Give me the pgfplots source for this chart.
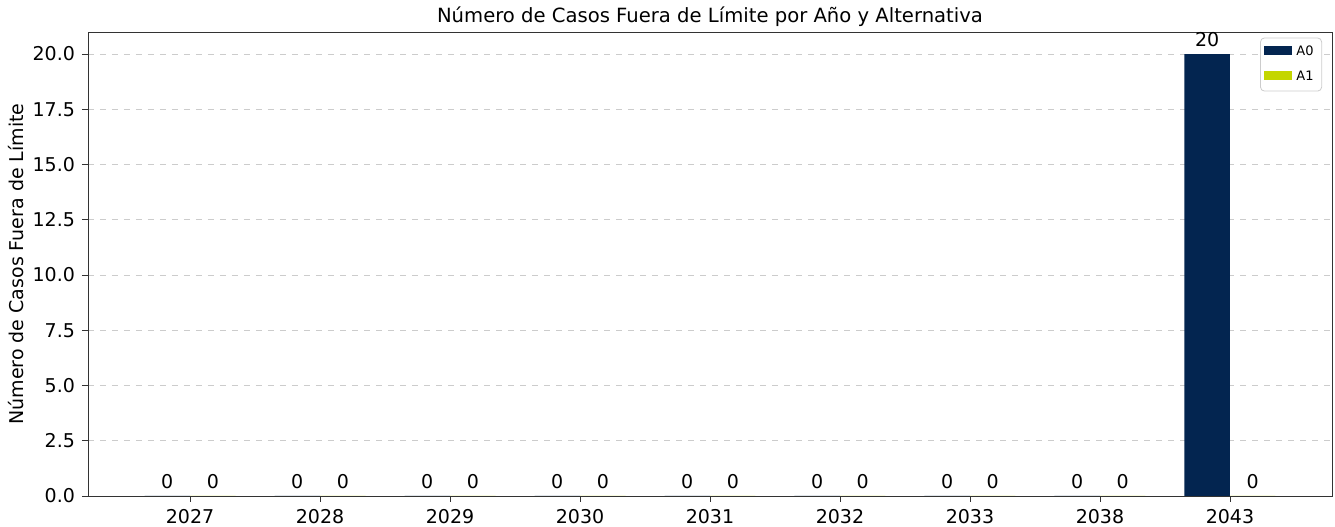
\documentclass[border=0pt]{standalone}
\usepackage{fontspec}
\setmainfont{DejaVu Sans}
\usepackage{pgfplots}
\pgfplotsset{compat=1.18}
\definecolor{navy}{RGB}{3,37,80}
\definecolor{lime}{RGB}{196,214,0}
\begin{document}
\begin{tikzpicture}
\begin{axis}[
  scale only axis, width=622pt, height=232pt,
  xmin=-0.785, xmax=8.785, ymin=0, ymax=21,
  xtick={0,1,2,3,4,5,6,7,8},
  xticklabels={2027,2028,2029,2030,2031,2032,2033,2038,2043},
  ytick={0,2.5,5,7.5,10,12.5,15,17.5,20},
  yticklabel style={/pgf/number format/.cd, fixed, fixed zerofill, precision=1},
  /pgf/number format/assume math mode=true,
  tick label style={font=\fontsize{9.5}{11}\selectfont},
  ymajorgrids, grid style={dashed, black!20},
  axis line style={black!80},
  tick align=outside, tick pos=left,
  major tick length=3pt,
  every tick/.style={black!80},
  title={Número de Casos Fuera de Límite por Año y Alternativa},
  title style={font=\fontsize{9.8}{11}\selectfont, yshift=-7pt},
  ylabel={Número de Casos Fuera de Límite},
  ylabel style={font=\fontsize{9.5}{11}\selectfont},
  ylabel shift=-2.5pt,
  legend style={at={(0.992,0.988)}, anchor=north east, font=\fontsize{6.5}{8}\selectfont,
    draw=black!20, rounded corners=2pt, row sep=2pt, inner sep=2pt},
  legend image code/.code={\fill[#1, sharp corners] (0pt,-1.5pt) rectangle (14pt,3pt);},
  nodes near coords style={font=\fontsize{9.5}{11}\selectfont, black},
]
\addplot[ybar, bar width=0.35, bar shift=-0.175, fill=navy, draw=none, nodes near coords,
  every node near coord/.append style={xshift=-11.4pt}]
  coordinates {(0,0) (1,0) (2,0) (3,0) (4,0) (5,0) (6,0) (7,0) (8,20)};
\addlegendentry{A0}
\addplot[ybar, bar width=0.35, bar shift=0.175, fill=lime, draw=none, nodes near coords,
  every node near coord/.append style={xshift=11.4pt}]
  coordinates {(0,0) (1,0) (2,0) (3,0) (4,0) (5,0) (6,0) (7,0) (8,0)};
\addlegendentry{A1}
\end{axis}
\pgfresetboundingbox
\path[use as bounding box] ([xshift=-44pt,yshift=-15.5pt]current axis.south west) rectangle ([xshift=1.5pt,yshift=16pt]current axis.north east);
\end{tikzpicture}
\end{document}
